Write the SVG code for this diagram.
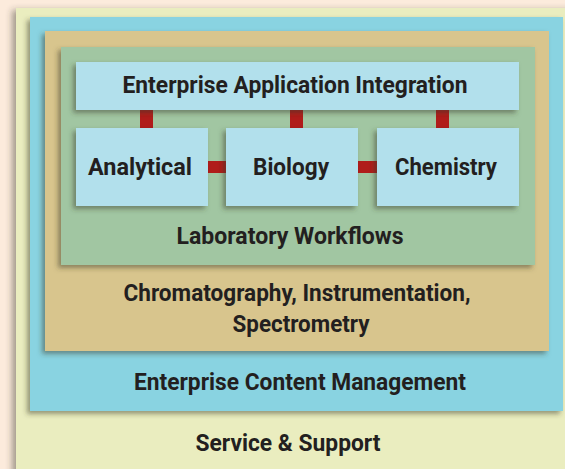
<svg xmlns="http://www.w3.org/2000/svg" width="565" height="469" viewBox="0 0 565 469">
<defs>
<filter id="sh" x="-10%" y="-10%" width="120%" height="130%">
<feDropShadow dx="-3" dy="3" stdDeviation="2.5" flood-color="#3a3a2a" flood-opacity="0.5"/>
</filter>
<filter id="sh2" x="-10%" y="-10%" width="120%" height="120%">
<feDropShadow dx="-4" dy="2" stdDeviation="3" flood-color="#3a3a2a" flood-opacity="0.45"/>
</filter>
</defs>
<style>
text{font-family:"Roboto","Liberation Sans",sans-serif;font-weight:bold;font-size:23px;fill:#231f20;text-anchor:middle}
.box{fill:#b2e0ec;filter:url(#sh)}
.link{fill:#b01c1a}
</style>
<rect width="565" height="469" fill="#fcebdc"/>
<g id="service">
<rect x="16" y="8" width="560" height="470" fill="#eaedbf" filter="url(#sh2)"/>
<text x="288" y="451" textLength="185" lengthAdjust="spacingAndGlyphs">Service &amp; Support</text>
</g>
<g id="ecm">
<rect x="30" y="17" width="533" height="394" fill="#89d3e1" filter="url(#sh)"/>
<text x="300" y="390" textLength="332" lengthAdjust="spacingAndGlyphs">Enterprise Content Management</text>
</g>
<g id="chrom">
<rect x="45" y="31" width="504" height="320" fill="#d8c58d" filter="url(#sh)"/>
<text x="297" y="301" textLength="347" lengthAdjust="spacingAndGlyphs">Chromatography, Instrumentation,</text>
<text x="301" y="332" textLength="137" lengthAdjust="spacingAndGlyphs">Spectrometry</text>
</g>
<g id="lab">
<rect x="61" y="47" width="474" height="218" fill="#a1c6a2" filter="url(#sh)"/>
<text x="290" y="244" textLength="227" lengthAdjust="spacingAndGlyphs">Laboratory Workflows</text>
</g>
<g id="connectors">
<rect class="link" x="140" y="110" width="13" height="18"/>
<rect class="link" x="290" y="110" width="13" height="18"/>
<rect class="link" x="436" y="110" width="13" height="18"/>
<rect class="link" x="208" y="161" width="18" height="12"/>
<rect class="link" x="358" y="161" width="19" height="12"/>
</g>
<g id="eai">
<rect class="box" x="76" y="62" width="443" height="48"/>
<text x="295" y="93" textLength="345" lengthAdjust="spacingAndGlyphs">Enterprise Application Integration</text>
</g>
<g id="analytical">
<rect class="box" x="76" y="128" width="132" height="78"/>
<text x="140" y="175" textLength="104" lengthAdjust="spacingAndGlyphs">Analytical</text>
</g>
<g id="biology">
<rect class="box" x="226" y="128" width="132" height="78"/>
<text x="291" y="175" textLength="76" lengthAdjust="spacingAndGlyphs">Biology</text>
</g>
<g id="chemistry">
<rect class="box" x="377" y="128" width="142" height="78"/>
<text x="446" y="175" textLength="102" lengthAdjust="spacingAndGlyphs">Chemistry</text>
</g>
</svg>
